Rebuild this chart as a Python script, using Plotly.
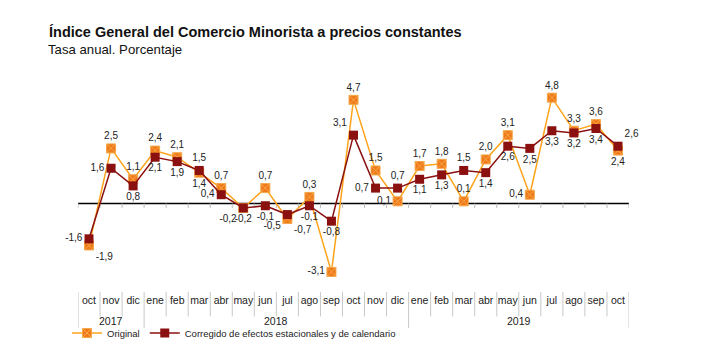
import plotly.graph_objects as go

years = ["2017"] * 3 + ["2018"] * 12 + ["2019"] * 10
months = ["oct", "nov", "dic",
          "ene", "feb", "mar", "abr", "may", "jun", "jul", "ago", "sep", "oct", "nov", "dic",
          "ene", "feb", "mar", "abr", "may", "jun", "jul", "ago", "sep", "oct"]

original = [-1.9, 2.5, 1.1, 2.4, 2.1, 1.4, 0.7, -0.2, 0.7, -0.7, 0.3, -3.1, 4.7, 1.5, 0.1,
            1.7, 1.8, 0.1, 2.0, 3.1, 0.4, 4.8, 3.3, 3.6, 2.4]
corregido = [-1.6, 1.6, 0.8, 2.1, 1.9, 1.5, 0.4, -0.2, -0.1, -0.5, -0.1, -0.8, 3.1, 0.7, 0.7,
             1.1, 1.3, 1.5, 1.4, 2.6, 2.5, 3.3, 3.2, 3.4, 2.6]

pos_original = ["bottom right", "top center", "top center", "top center", "top center",
                "bottom center", "top center", "bottom left", "top center", "bottom right",
                "top center", "middle left", "top center", "top center", "middle left",
                "top center", "top center", "top center", "top center", "top center",
                "middle left", "top center", "top center", "top center", "bottom center"]
pos_corregido = ["middle left", "middle left", "bottom center", "bottom center", "bottom center",
                 "top center", "middle left", "bottom center", "bottom center", "bottom left",
                 "bottom center", "bottom center", "top left", "middle left", "top center",
                 "bottom center", "bottom center", "top center", "bottom center", "bottom center",
                 "bottom center", "bottom center", "bottom center", "bottom center", "top right"]

def fmt(v):
    return f"{v:.1f}".replace(".", ",")

n = len(months)
idx = list(range(n))
FONT = "Liberation Sans, Arial, sans-serif"

fig = go.Figure()
fig.add_trace(go.Scatter(
    x=idx, y=original, name="Original", mode="lines+markers+text",
    line=dict(color="#FFA31A", width=1.5),
    marker=dict(symbol="square-x", size=9, color="#F07A1A",
                line=dict(color="#F5A84A", width=1)),
    text=[fmt(v) for v in original], textposition=pos_original,
    textfont=dict(family=FONT, size=10, color="#222222"),
    cliponaxis=False,
))
fig.add_trace(go.Scatter(
    x=idx, y=corregido, name="Corregido de efectos estacionales y de calendario",
    mode="lines+markers+text",
    line=dict(color="#8B1010", width=1.5),
    marker=dict(symbol="square", size=9, color="#8B1010"),
    text=[fmt(v) for v in corregido], textposition=pos_corregido,
    textfont=dict(family=FONT, size=10, color="#222222"),
    cliponaxis=False,
))

y_min, y_max = -4.01, 5.6

shapes = []
shapes.append(dict(type="line", xref="paper", yref="y", x0=0, x1=1, y0=0, y1=0,
                   line=dict(color="black", width=1.5), layer="below"))
year_bounds = [i for i in range(1, n) if years[i] != years[i - 1]]
for b in range(n + 1):
    xb = b - 0.5
    shapes.append(dict(type="line", xref="x", yref="y", x0=xb, x1=xb, y0=0, y1=-0.2,
                       line=dict(color="#BBBBBB", width=1), layer="below"))
    is_year = b in year_bounds or b == 0 or b == n
    shapes.append(dict(type="line", xref="x", yref="paper", x0=xb, x1=xb,
                       y0=0, y1=-0.17 if is_year else -0.115,
                       line=dict(color="#C8C8C8", width=1)))

annotations = []
for yv in dict.fromkeys(years):
    members = [i for i, yy in enumerate(years) if yy == yv]
    annotations.append(dict(xref="x", yref="paper", x=sum(members) / len(members), y=-0.135,
                            text=yv, showarrow=False, xanchor="center", yanchor="middle",
                            font=dict(family=FONT, size=10.5, color="#222222")))
annotations += [
    dict(xref="paper", yref="paper", x=-0.056, y=1.226, xanchor="left", yanchor="middle",
         text="<b>Índice General del Comercio Minorista a precios constantes</b>",
         showarrow=False, font=dict(family=FONT, size=14.5, color="#111111")),
    dict(xref="paper", yref="paper", x=-0.058, y=1.146, xanchor="left", yanchor="middle",
         text="Tasa anual. Porcentaje",
         showarrow=False, font=dict(family=FONT, size=13.2, color="#111111")),
]

# page body adds an 8px offset, so the figure is 712x348 placed at (8, 8)
W, H = 712, 348
fig.update_layout(
    width=W, height=H,
    margin=dict(l=70, r=91, t=72, b=64, autoexpand=False),
    paper_bgcolor="white", plot_bgcolor="white",
    font=dict(family=FONT, size=10, color="#222222"),
    showlegend=True,
    legend=dict(orientation="h", xref="container", yref="container",
                x=59 / W, xanchor="left", y=1 - 325 / H, yanchor="middle",
                font=dict(family=FONT, size=9.5, color="#222222"),
                bgcolor="rgba(0,0,0,0)"),
    xaxis=dict(range=[-0.5, n - 0.5], tickvals=idx, ticktext=months, tickangle=0,
               showgrid=False, zeroline=False, showline=False, ticks="", automargin=False,
               tickfont=dict(family=FONT, size=10.5, color="#222222")),
    yaxis=dict(range=[y_min, y_max], showgrid=False, zeroline=False, showline=False,
               showticklabels=False, ticks="", automargin=False),
    shapes=shapes,
    annotations=annotations,
)

fig.write_html("out.html")
